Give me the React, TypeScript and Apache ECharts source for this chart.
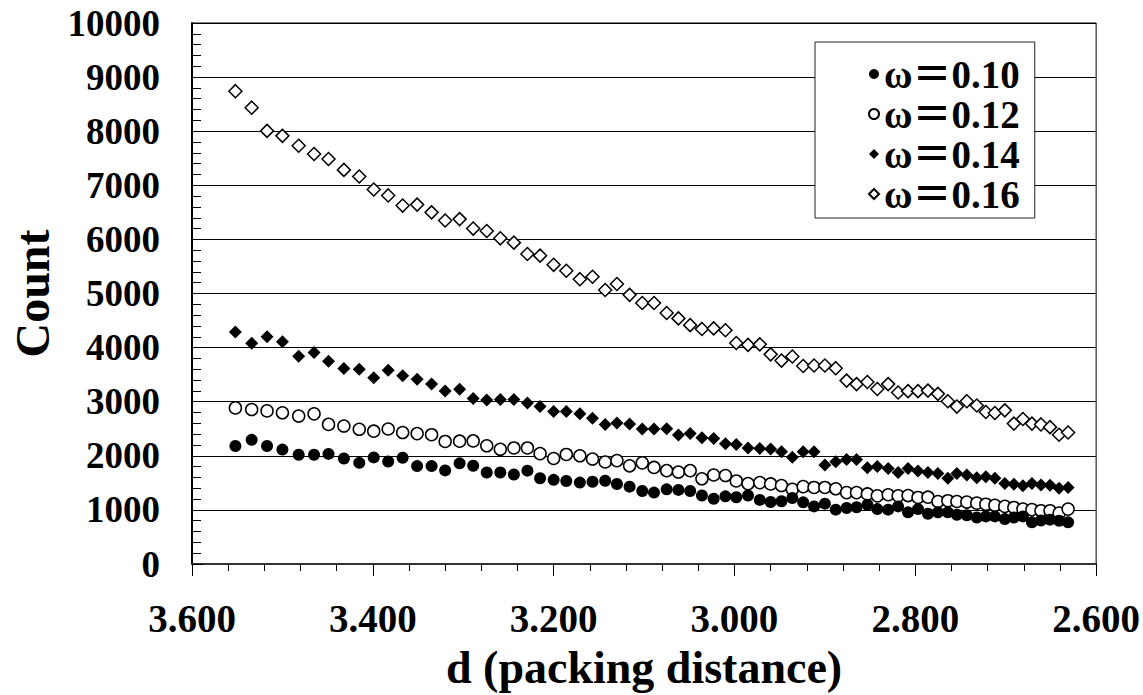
import React, { useEffect, useRef } from "react";
import * as echarts from "echarts";

const dValues = [
  3.552, 3.534, 3.517, 3.500, 3.482, 3.465, 3.449, 3.432, 3.415, 3.399,
  3.383, 3.367, 3.351, 3.335, 3.320, 3.304, 3.289, 3.274, 3.259, 3.244,
  3.229, 3.215, 3.200, 3.186, 3.171, 3.157, 3.143, 3.130, 3.116, 3.102,
  3.089, 3.075, 3.062, 3.049, 3.036, 3.023, 3.010, 2.998, 2.985, 2.972,
  2.960, 2.948, 2.936, 2.924, 2.912, 2.900, 2.888, 2.876, 2.865, 2.853,
  2.842, 2.830, 2.819, 2.808, 2.797, 2.786, 2.775, 2.764, 2.754, 2.743,
  2.732, 2.722, 2.712, 2.701, 2.691, 2.681, 2.671, 2.661, 2.651, 2.641,
  2.631,
];

const w010 = [
  2180, 2295, 2180, 2115, 2020, 2020, 2035, 1950, 1870, 1970,
  1895, 1965, 1810, 1810, 1730, 1860, 1815, 1690, 1690, 1655,
  1725, 1585, 1555, 1535, 1505, 1520, 1540, 1480, 1430, 1350,
  1320, 1380, 1370, 1350, 1265, 1205, 1250, 1235, 1265, 1185,
  1145, 1160, 1220, 1140, 1065, 1115, 1005, 1035, 1050, 1095,
  1015, 1005, 1065, 955, 1015, 930, 955, 955, 910, 900,
  860, 880, 880, 830, 860, 880, 770, 805, 820, 800,
  770,
];

const w012 = [
  2885, 2855, 2830, 2795, 2735, 2775, 2580, 2550, 2490, 2455,
  2495, 2430, 2410, 2390, 2265, 2270, 2275, 2185, 2120, 2145,
  2145, 2040, 1950, 2025, 2000, 1940, 1885, 1910, 1815, 1870,
  1785, 1725, 1700, 1725, 1575, 1645, 1635, 1535, 1485, 1505,
  1480, 1450, 1380, 1430, 1415, 1415, 1390, 1320, 1320, 1295,
  1260, 1280, 1260, 1265, 1230, 1235, 1155, 1170, 1155, 1145,
  1125, 1105, 1085, 1065, 1045, 1015, 1005, 985, 985, 940,
  1015,
];

const w014 = [
  4290, 4080, 4200, 4110, 3840, 3910, 3750, 3615, 3600, 3445,
  3580, 3480, 3415, 3325, 3200, 3230, 3060, 3030, 3040, 3040,
  2975, 2910, 2820, 2820, 2775, 2695, 2580, 2605, 2590, 2495,
  2495, 2500, 2385, 2410, 2335, 2320, 2225, 2210, 2145, 2135,
  2125, 2075, 1975, 2075, 2075, 1830, 1890, 1930, 1930, 1780,
  1800, 1765, 1690, 1765, 1720, 1690, 1675, 1585, 1675, 1645,
  1595, 1615, 1585, 1490, 1475, 1445, 1490, 1460, 1455, 1400,
  1415,
];

const w016 = [
  8740, 8435, 8006, 7914, 7731, 7579, 7487, 7285, 7162, 6923,
  6813, 6625, 6643, 6500, 6350, 6375, 6200, 6155, 6020, 5940,
  5730, 5700, 5530, 5420, 5265, 5310, 5065, 5175, 4975, 4825,
  4825, 4640, 4540, 4415, 4345, 4355, 4320, 4085, 4050, 4060,
  3875, 3760, 3835, 3660, 3670, 3670, 3620, 3390, 3325, 3365,
  3235, 3325, 3170, 3195, 3195, 3205, 3145, 3010, 2910, 3010,
  2930, 2810, 2790, 2840, 2595, 2680, 2595, 2580, 2530, 2390,
  2430,
];

const seriesNames = ["ω＝0.10", "ω＝0.12", "ω＝0.14", "ω＝0.16"];
const xTitle = "d (packing distance)";
const yTitle = "Count";

const FONT = "'Liberation Serif', 'Times New Roman', 'Noto Sans CJK SC', serif";

function pairs(ys: number[]) {
  return dValues.map((d, i) => [d, ys[i]]);
}

export default function App() {
  const ref = useRef<HTMLDivElement>(null);
  useEffect(() => {
    if (!ref.current) return;
    const chart = echarts.init(ref.current, null, { renderer: "svg" });
    const openStyle = { color: "#ffffff", borderColor: "#000000", borderWidth: 1.5, opacity: 1 };
    const fillStyle = { color: "#000000", opacity: 1 };
    chart.setOption({
      animation: false,
      backgroundColor: "#ffffff",
      textStyle: { fontFamily: FONT },
      grid: {
        left: 187,
        right: 46,
        top: 23,
        bottom: 127,
        show: true,
        borderColor: "#000000",
        borderWidth: 1,
        backgroundColor: "transparent",
      },
      legend: {
        orient: "vertical",
        left: 815,
        top: 42,
        padding: [12, 15, 4, 53],
        itemGap: 0,
        itemWidth: 10,
        itemHeight: 10,
        backgroundColor: "#ffffff",
        borderColor: "#222222",
        borderWidth: 1,
        data: seriesNames,
        textStyle: {
          fontFamily: FONT,
          fontSize: 39,
          fontWeight: "bold",
          color: "#000000",
          lineHeight: 40,
        },
      },
      xAxis: {
        type: "value",
        inverse: true,
        min: 2.6,
        max: 3.6,
        interval: 0.2,
        name: xTitle,
        nameLocation: "middle",
        nameGap: 80,
        nameTextStyle: { fontFamily: FONT, fontSize: 46, fontWeight: "bold", color: "#000" },
        axisLine: { show: true, onZero: false, lineStyle: { color: "#333333", width: 2 } },
        axisTick: { show: true, inside: false, length: 12, lineStyle: { color: "#000", width: 1 } },
        minorTick: { show: true, splitNumber: 5, length: 7, lineStyle: { color: "#000", width: 1 } },
        splitLine: { show: false },
        axisLabel: {
          margin: 35,
          fontFamily: FONT,
          fontSize: 39,
          fontWeight: "bold",
          color: "#000",
          formatter: (v: number) => v.toFixed(3),
        },
      },
      yAxis: {
        type: "value",
        min: 0,
        max: 10000,
        interval: 1000,
        name: yTitle,
        nameLocation: "middle",
        nameGap: 136,
        nameRotate: 90,
        nameTextStyle: { fontFamily: FONT, fontSize: 48, fontWeight: "bold", color: "#000" },
        axisLine: { show: true, lineStyle: { color: "#000", width: 2 } },
        axisTick: { show: true, inside: true, length: 11, lineStyle: { color: "#000", width: 1 } },
        minorTick: { show: true, splitNumber: 5, length: 9, lineStyle: { color: "#000", width: 1 } },
        splitLine: { show: true, lineStyle: { color: "#000", width: 1 } },
        axisLabel: {
          margin: 32,
          fontFamily: FONT,
          fontSize: 37,
          fontWeight: "bold",
          color: "#000",
          formatter: (v: number) => String(v),
        },
      },
      series: [
        { name: seriesNames[0], type: "scatter", symbol: "circle", symbolSize: 12, itemStyle: fillStyle, data: pairs(w010), z: 4 },
        { name: seriesNames[1], type: "scatter", symbol: "circle", symbolSize: 12, itemStyle: openStyle, data: pairs(w012), z: 3 },
        { name: seriesNames[2], type: "scatter", symbol: "diamond", symbolSize: 13, itemStyle: fillStyle, data: pairs(w014), z: 2 },
        { name: seriesNames[3], type: "scatter", symbol: "diamond", symbolSize: 13, itemStyle: openStyle, data: pairs(w016), z: 1 },
      ],
    });
    return () => chart.dispose();
  }, []);
  return (
    <div
      ref={ref}
      style={{ position: "fixed", left: 0, top: 0, width: 1143, height: 695, background: "#fff" }}
    />
  );
}
